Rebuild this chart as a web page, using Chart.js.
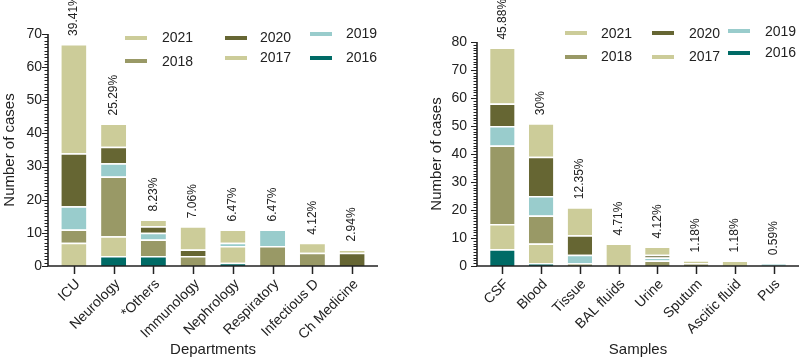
<!DOCTYPE html>
<html><head><meta charset="utf-8">
<script src="https://cdn.jsdelivr.net/npm/chart.js@4.4.0/dist/chart.umd.min.js"></script>
<style>
html,body{margin:0;padding:0;background:#fff;}
#wrap{position:relative;width:799px;height:360px;overflow:hidden;}
.panel{position:absolute;top:0;}
</style></head>
<body>
<div id="wrap">
  <canvas id="c1" class="panel" width="400" height="360" style="left:0"></canvas>
  <canvas id="c2" class="panel" width="399" height="360" style="left:400px"></canvas>
</div>
<script>
// ---------- DATA ----------
const years = ['2016', '2017', '2018', '2019', '2020', '2021'];
const yearColors = ['#006b66', '#cccc99', '#999966', '#99cccc', '#666633', '#cccc99'];

const deptLabels = ['ICU', 'Neurology', '*Others', 'Immunology', 'Nephrology', 'Respiratory', 'Infectious D', 'Ch Medicine'];
const dept2016 = [0, 3, 3, 0, 1, 0, 0, 0];
const dept2017 = [7, 6, 0, 0, 5, 0, 0, 0];
const dept2018 = [4, 18, 5, 3, 0, 6, 4, 0];
const dept2019 = [7, 4, 2, 0, 1, 5, 0, 0];
const dept2020 = [16, 5, 2, 2, 0, 0, 0, 4];
const dept2021 = [33, 7, 2, 7, 4, 0, 3, 1];
const deptPct = ['39.41%', '25.29%', '8.23%', '7.06%', '6.47%', '6.47%', '4.12%', '2.94%'];

const sampleLabels = ['CSF', 'Blood', 'Tissue', 'BAL fluids', 'Urine', 'Sputum', 'Ascitic fluid', 'Pus'];
const samp2016 = [6, 1, 0, 0, 0, 0, 0, 0];
const samp2017 = [9, 7, 0, 0, 0, 0, 0, 0];
const samp2018 = [28, 10, 1, 0, 2, 1, 0, 0];
const samp2019 = [7, 7, 3, 0, 1, 0, 0, 1];
const samp2020 = [8, 14, 7, 0, 1, 0, 0, 0];
const samp2021 = [20, 12, 10, 8, 3, 1, 2, 0];
const samplePct = ['45.88%', '30%', '12.35%', '4.71%', '4.12%', '1.18%', '1.18%', '0.59%'];

const deptTicks = [0, 10, 20, 30, 40, 50, 60, 70];
const sampTicks = [0, 10, 20, 30, 40, 50, 60, 70, 80];

// ---------- DRAWING ----------
const FONT = '"Liberation Sans", Arial, sans-serif';
const INK = '#222';

const overlay = {
  id: 'overlay',
  afterDraw(chart, args, opts) {
    const {ctx, chartArea: ca, scales: {x, y}} = chart;
    const ax = ca.left - opts.gap, ar = ca.right + opts.gap;
    const ab = y.getPixelForValue(0), at = y.getPixelForValue(y.max);
    ctx.save();
    ctx.strokeStyle = INK;
    ctx.lineWidth = 1;
    for (let v = 0; v <= y.max; v++) {
      const py = Math.round(y.getPixelForValue(v)) + 0.5;
      const len = v % 10 === 0 ? 6 : 3.5;
      ctx.beginPath(); ctx.moveTo(ax - len, py); ctx.lineTo(ax, py); ctx.stroke();
    }
    ctx.lineWidth = 1.6;
    ctx.beginPath(); ctx.moveTo(ax, at); ctx.lineTo(ax, ab); ctx.lineTo(ar, ab); ctx.stroke();
    ctx.lineWidth = 1.5;
    chart.data.labels.forEach((l, i) => {
      const px = Math.round(x.getPixelForValue(i)) + 0.5;
      ctx.beginPath(); ctx.moveTo(px, ab); ctx.lineTo(px, ab + 8); ctx.stroke();
    });
    ctx.fillStyle = INK;
    ctx.font = '12px ' + FONT;
    ctx.textAlign = 'left';
    ctx.textBaseline = 'middle';
    chart.data.labels.forEach((l, i) => {
      const total = chart.data.datasets.reduce((s, d) => s + d.data[i], 0);
      const px = x.getPixelForValue(i);
      const py = y.getPixelForValue(total) - 8;
      ctx.save(); ctx.translate(px, py); ctx.rotate(-Math.PI / 2);
      ctx.fillText(opts.pct[i], 0, 0); ctx.restore();
    });
    ctx.font = '14px ' + FONT;
    opts.legend.forEach(it => {
      const idx = years.indexOf(it.year);
      ctx.fillStyle = yearColors[idx];
      ctx.fillRect(it.lx, it.ly - 2, 22, 4);
      ctx.fillStyle = INK;
      ctx.fillText(it.year, it.tx, it.ty);
    });
    ctx.restore();
  }
};

function makeChart(id, labels, series, ticks, pct, xTitle, cfg) {
  const datasets = years.map((yr, k) => ({
    label: yr,
    data: series[k],
    backgroundColor: yearColors[k],
    borderColor: '#ffffff',
    borderWidth: {top: 1.5, bottom: 0, left: 0, right: 0},
    borderSkipped: false,
    categoryPercentage: 1,
    barPercentage: 0.63
  }));
  return new Chart(document.getElementById(id), {
    type: 'bar',
    data: {labels, datasets},
    options: {
      responsive: false,
      animation: false,
      events: [],
      layout: {padding: {top: cfg.top, right: cfg.right, left: 0, bottom: 0}},
      plugins: {
        legend: {display: false},
        tooltip: {enabled: false},
        overlay: {gap: cfg.gap, pct, legend: cfg.legend}
      },
      scales: {
        x: {
          stacked: true,
          offset: true,
          grid: {display: false, drawTicks: false},
          border: {display: false},
          ticks: {color: INK, font: {family: FONT, size: 14}, maxRotation: 45, minRotation: 45, padding: 10, labelOffset: 4, autoSkip: false},
          title: {display: true, text: xTitle, color: INK, font: {family: FONT, size: 15}, padding: {top: 0, bottom: 1}},
          afterFit: s => { s.height = 94; }
        },
        y: {
          stacked: true,
          min: 0,
          max: ticks[ticks.length - 1],
          afterBuildTicks: s => { s.ticks = ticks.map(v => ({value: v})); },
          grid: {display: false, drawTicks: false},
          border: {display: false},
          ticks: {color: INK, font: {family: FONT, size: 14}, padding: cfg.ypad},
          title: {display: true, text: 'Number of cases', color: INK, font: {family: FONT, size: 15}, padding: {top: cfg.ytitle, bottom: 0}},
          afterFit: s => { s.width = cfg.yw; }
        }
      }
    },
    plugins: [overlay]
  });
}

makeChart('c1', deptLabels, [dept2016, dept2017, dept2018, dept2019, dept2020, dept2021], deptTicks, deptPct, 'Departments', {
  top: 34, right: 28, yw: 54, gap: 6, ypad: 12, ytitle: 1,
  legend: [
    {year: '2021', lx: 125, ly: 38, tx: 162, ty: 38},
    {year: '2020', lx: 225, ly: 38, tx: 260, ty: 38},
    {year: '2019', lx: 310, ly: 34, tx: 346, ty: 34},
    {year: '2018', lx: 125, ly: 61, tx: 162, ty: 62},
    {year: '2017', lx: 225, ly: 58, tx: 260, ty: 58},
    {year: '2016', lx: 310, ly: 58, tx: 346, ty: 58}
  ]
});

makeChart('c2', sampleLabels, [samp2016, samp2017, samp2018, samp2019, samp2020, samp2021], sampTicks, samplePct, 'Samples', {
  top: 42, right: 6, yw: 83, gap: 6, ypad: 16, ytitle: 28,
  legend: [
    {year: '2021', lx: 165, ly: 33, tx: 201, ty: 34},
    {year: '2020', lx: 252, ly: 33, tx: 289, ty: 34},
    {year: '2019', lx: 328, ly: 31, tx: 365, ty: 32},
    {year: '2018', lx: 165, ly: 57, tx: 201, ty: 57},
    {year: '2017', lx: 252, ly: 57, tx: 289, ty: 57},
    {year: '2016', lx: 328, ly: 53, tx: 365, ty: 53}
  ]
});
</script>
</body></html>
